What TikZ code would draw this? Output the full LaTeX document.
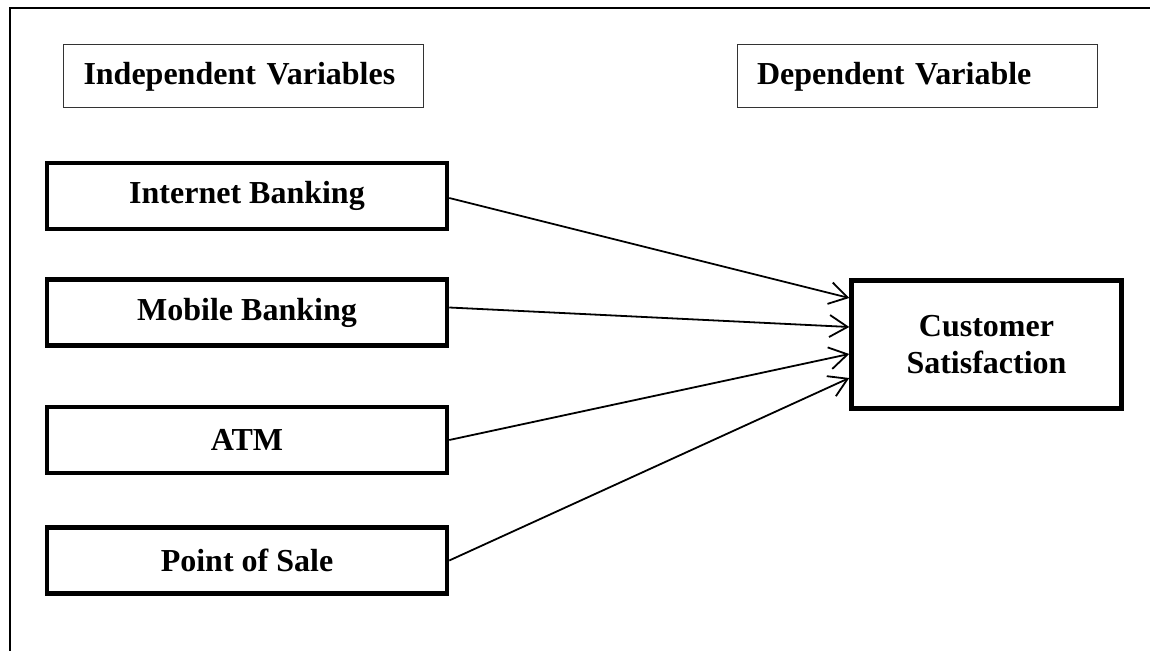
\documentclass[tikz,border=0pt]{standalone}
\usepackage{fontspec}
\setmainfont{Liberation Serif}
\usetikzlibrary{arrows.meta,calc}
\tikzset{
	headbox/.style={draw=black!80,line width=0.5pt,text width=160pt,align=left,inner xsep=10pt,minimum height=31.5pt},
	varbox/.style={draw,line width=2.25pt,minimum width=200pt,minimum height=33pt,align=center},
	link/.style={line width=0.9pt,-{Straight Barb[length=9pt,width=11pt,line width=0.9pt]}}
}
\begin{document}
\begin{tikzpicture}[x=0.5pt,y=-0.5pt,font=\fontsize{16}{18.5}\selectfont\bfseries]
	\useasboundingbox (0,0) rectangle (1150,651);
	\draw[line width=1pt](10,651)--(10,8)--(1150,8);
	\node[headbox] (indep) at (243.5,76.5) {Independent Variables};
	\node[headbox] (dep) at (917,76.5) {Dependent Variable};
	\node[varbox] (ib) at (247,196) {Internet Banking};
	\node[varbox] (mb) at (247,312.5) {Mobile Banking};
	\node[varbox] (atm) at (247,440) {ATM};
	\node[varbox] (pos) at (247,560.5) {Point of Sale};
	\node[varbox,minimum width=135pt,minimum height=64pt] (cs) at (986.5,344.5) {Customer\\Satisfaction};
	\draw[link]($(ib.east)+(0,2)$)--($(cs.west)+(0,-46.5)$);
	\draw[link]($(mb.east)+(0,-5)$)--($(cs.west)+(0,-17.5)$);
	\draw[link](atm.east)--($(cs.west)+(0,9.5)$);
	\draw[link](pos.east)--($(cs.west)+(0,33.5)$);
\end{tikzpicture}
\end{document}
